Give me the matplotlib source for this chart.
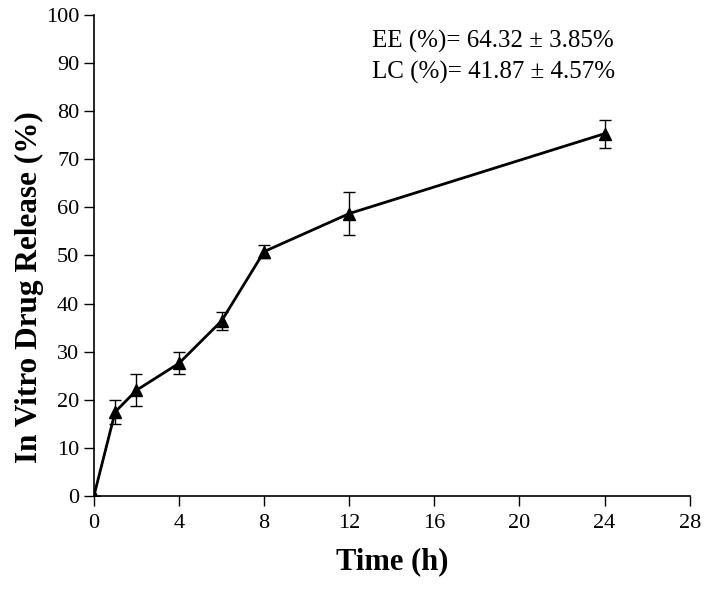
import matplotlib
matplotlib.use('Agg')
import matplotlib.pyplot as plt

plt.rcParams['font.family'] = ['Liberation Serif', 'DejaVu Serif']

# data
time_h = [0, 1, 2, 4, 6, 8, 12, 24]
release = [0, 17.5, 22.0, 27.6, 36.4, 50.8, 58.7, 75.3]
release_err = [0, 2.5, 3.3, 2.3, 1.8, 1.3, 4.4, 2.9]
x_ticks = [0, 4, 8, 12, 16, 20, 24, 28]
y_ticks = [0, 10, 20, 30, 40, 50, 60, 70, 80, 90, 100]

fig = plt.figure(figsize=(7.11, 5.9), dpi=100)
ax = fig.add_axes([0.132, 0.159, 0.838, 0.816])

ax.errorbar(time_h, release, yerr=release_err, color='black', linewidth=2,
            marker='^', markersize=9, ecolor='black', elinewidth=1,
            capsize=4, capthick=1)

ax.set_xlim(0, 28)
ax.set_ylim(0, 100)
ax.set_xticks(x_ticks)
ax.set_yticks(y_ticks)
ax.tick_params(axis='both', direction='out', length=7, width=1, labelsize=16)
ax.tick_params(axis='x', pad=6)

ax.spines['right'].set_visible(False)
ax.spines['top'].set_visible(False)
ax.spines['left'].set_linewidth(1.2)
ax.spines['bottom'].set_linewidth(1.2)

ax.set_xlabel('Time (h)', fontsize=22, fontweight='bold', labelpad=10)
ax.set_ylabel('In Vitro Drug Release (%)', fontsize=22.5, fontweight='bold')
ax.yaxis.set_label_coords(-0.083, 0.435)

ax.text(13.05, 94.5, 'EE (%)= 64.32 \u00b1 3.85%', fontsize=18, va='center')
ax.text(13.05, 88, 'LC (%)= 41.87 \u00b1 4.57%', fontsize=18, va='center')

plt.savefig('out.png', dpi=100)
